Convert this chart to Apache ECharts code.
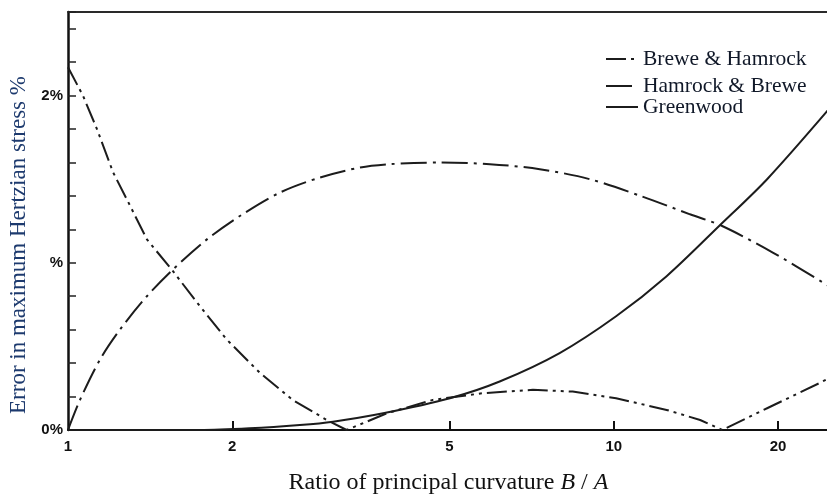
<!DOCTYPE html>
<html>
<head>
<meta charset="utf-8">
<script src="https://cdn.jsdelivr.net/npm/echarts@6/dist/echarts.min.js"></script>
<style>
  html, body { margin: 0; padding: 0; background: #fff; }
  #chart { width: 827px; height: 495px; }
</style>
</head>
<body>
<div id="chart"></div>
<script>
// ---- data ----
const seriesNames = ['Brewe & Hamrock', 'Hamrock & Brewe', 'Greenwood'];

// Brewe & Hamrock : [B/A, error %]
const breweHamrock = [
  [1.0, 2.17], [1.065, 2.00], [1.13, 1.80], [1.21, 1.54], [1.30, 1.34],
  [1.395, 1.14], [1.557, 0.95], [1.745, 0.74], [1.955, 0.54], [2.25, 0.34],
  [2.58, 0.18], [2.98, 0.06], [3.24, 0.0], [3.84, 0.10], [4.66, 0.18],
  [5.75, 0.22], [7.11, 0.24], [8.41, 0.23], [10.1, 0.19], [12.5, 0.12],
  [14.4, 0.06], [15.8, 0.0], [19.1, 0.13], [23.8, 0.28], [24.8, 0.31]
];

// Hamrock & Brewe
const hamrockBrewe = [
  [1.0, 0.0], [1.052, 0.18], [1.144, 0.42], [1.245, 0.60], [1.395, 0.80],
  [1.557, 0.96], [1.797, 1.14], [2.065, 1.28], [2.445, 1.42], [2.894, 1.51],
  [3.43, 1.57], [3.89, 1.59], [4.80, 1.60], [5.93, 1.59], [7.32, 1.56],
  [9.04, 1.50], [11.2, 1.40], [13.8, 1.29], [15.8, 1.22], [19.6, 1.06],
  [24.8, 0.86]
];

// Greenwood
const greenwood = [
  [1.0, 0.0], [1.41, 0.0], [1.745, 0.0], [2.15, 0.01], [2.66, 0.03],
  [3.06, 0.05], [3.78, 0.10], [5.01, 0.19], [6.18, 0.29], [7.96, 0.46],
  [10.1, 0.68], [12.5, 0.92], [15.6, 1.22], [19.1, 1.50], [24.8, 1.92]
];

const xTickValues = [1, 2, 5, 10, 20];
const yLabelValues = [0, 1, 2];
const yLabelTexts = ['0%', '%', '2%'];

// ---- chart ----
const chart = echarts.init(document.getElementById('chart'), null, { renderer: 'canvas' });
const lineColor = '#1c1c1c';
const serif = '"Liberation Serif", "Times New Roman", serif';
const sans = '"Liberation Sans", Arial, sans-serif';

function legendFor(name, top) {
  return {
    data: [name], left: 600, top: top,
    itemWidth: 32, itemHeight: 12, itemGap: 0,
    itemStyle: { opacity: 0 },
    textStyle: { fontFamily: serif, fontSize: 21.5, color: '#101828' }
  };
}

chart.setOption({
  animation: false,
  backgroundColor: '#ffffff',
  grid: { left: 68, top: 12, right: -2, bottom: 65, show: false, containLabel: false, outerBoundsMode: 'none' },
  legend: [
    legendFor(seriesNames[0], 43),
    legendFor(seriesNames[1], 70),
    legendFor(seriesNames[2], 91)
  ],
  xAxis: [{
    type: 'log', logBase: 10, min: 1, max: 24.8,
    name: 'Ratio of principal curvature {i|B} / {i|A}',
    nameLocation: 'middle', nameGap: 41,
    nameTextStyle: {
      fontFamily: serif, fontSize: 24, color: '#111',
      rich: { i: { fontFamily: serif, fontSize: 24, fontStyle: 'italic', color: '#111' } }
    },
    axisLine: { show: true, lineStyle: { color: '#111', width: 2 } },
    axisTick: { show: true, inside: true, length: 9, customValues: xTickValues.slice(1),
      lineStyle: { color: '#111', width: 2 } },
    axisLabel: { show: true, customValues: xTickValues, margin: 9,
      fontFamily: sans, fontSize: 15, fontWeight: 'bold', color: '#111',
      formatter: v => String(Math.round(v)) },
    splitLine: { show: false },
    minorTick: { show: false }
  }, {
    type: 'log', logBase: 10, min: 1, max: 24.8, position: 'top',
    axisLine: { show: true, lineStyle: { color: '#2a2a2a', width: 2 } },
    axisTick: { show: false }, axisLabel: { show: false }, splitLine: { show: false }
  }],
  yAxis: {
    type: 'value', min: 0, max: 2.5, interval: 0.2,
    name: 'Error in maximum Hertzian stress %',
    nameLocation: 'middle', nameGap: 31, nameRotate: 90,
    nameTextStyle: { fontFamily: serif, fontSize: 23, color: '#1d3a6e', padding: [0, 48, 0, 0] },
    axisLine: { show: true, lineStyle: { color: '#111', width: 2.5 } },
    axisTick: { show: true, inside: true, length: 8, lineStyle: { color: '#222', width: 1.5 } },
    axisLabel: { show: true, customValues: yLabelValues, margin: 5,
      fontFamily: sans, fontSize: 15, fontWeight: 'bold', color: '#111',
      formatter: v => {
        const i = yLabelValues.findIndex(t => Math.abs(t - v) < 1e-6);
        return i >= 0 ? yLabelTexts[i] : '';
      } },
    splitLine: { show: false }
  },
  series: [
    { name: seriesNames[0], type: 'line', data: breweHamrock, symbol: 'none', smooth: false,
      lineStyle: { color: lineColor, width: 2, type: [20, 5, 3, 5, 3, 5] }, itemStyle: { color: lineColor } },
    { name: seriesNames[1], type: 'line', data: hamrockBrewe, symbol: 'none', smooth: 0.3,
      lineStyle: { color: lineColor, width: 2, type: [26, 6, 3, 6] }, itemStyle: { color: lineColor } },
    { name: seriesNames[2], type: 'line', data: greenwood, symbol: 'none', smooth: 0.3,
      lineStyle: { color: lineColor, width: 2, type: 'solid' }, itemStyle: { color: lineColor } }
  ]
});
</script>
</body>
</html>
